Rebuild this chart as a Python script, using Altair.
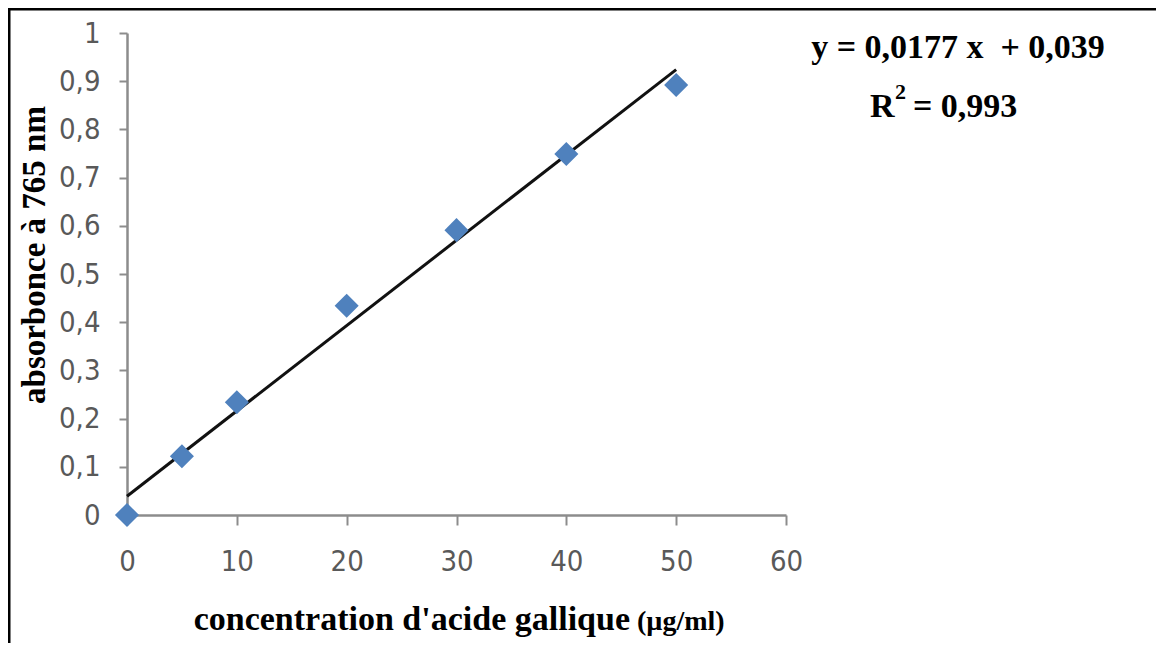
import altair as alt
import pandas as pd

# data
conc = [0, 5, 10, 20, 30, 40, 50]
absorb = [0.0, 0.122, 0.234, 0.434, 0.591, 0.749, 0.892]
trend_x = [0, 50]
trend_y = [0.039, 0.924]
x_ticks = [0, 10, 20, 30, 40, 50, 60]
y_ticks = [0, 0.1, 0.2, 0.3, 0.4, 0.5, 0.6, 0.7, 0.8, 0.9, 1]
eq_line1 = "y = 0,0177 x \u00a0+ 0,039"
eq_r = "R"
eq_sup = "2"
eq_rest = "= 0,993"
x_title_main = "concentration d'acide gallique"
x_title_unit = "(µg/ml)"
y_title = "absorbonce à 765 nm"

pts = pd.DataFrame({"x": conc, "y": absorb})
trend = pd.DataFrame({"x": trend_x, "y": trend_y})

AX = "#8c8c8c"
TICKFONT = "DejaVu Sans Condensed, Lato, sans-serif"
SERIF = "Liberation Serif, Times New Roman, serif"

xs = alt.Scale(domain=[0, 60], nice=False, zero=False)
ys = alt.Scale(domain=[0, 1], nice=False)

x_axis = alt.Axis(values=x_ticks, title=None, grid=False, domainColor=AX, domainWidth=2.5,
                  tickColor=AX, tickWidth=2, tickSize=10, labelFont=TICKFONT, labelFontSize=29,
                  labelColor="#595959", labelPadding=22, labelFlush=False)
y_axis = alt.Axis(values=y_ticks, title=None, grid=False, domainColor=AX, domainWidth=2.5,
                  tickColor=AX, tickWidth=2, tickSize=8, labelFont=TICKFONT, labelFontSize=29,
                  labelColor="#595959", labelPadding=19, format=".1~f",
                  labelExpr="replace(datum.label, '.', ',')", labelFlush=False)

line = alt.Chart(trend).mark_line(color="#111111", strokeWidth=3).encode(
    x=alt.X("x:Q", scale=xs, axis=x_axis),
    y=alt.Y("y:Q", scale=ys, axis=y_axis),
)
points = alt.Chart(pts).mark_point(shape="diamond", filled=True, size=580, opacity=1,
                                   color="#4F81BD").encode(
    x=alt.X("x:Q", scale=xs),
    y=alt.Y("y:Q", scale=ys),
)

def txt(s, x, y, size, align="center", angle=0, font=SERIF):
    return alt.Chart(pd.DataFrame({"t": [s]})).mark_text(
        font=font, fontSize=size, fontWeight="bold", color="black", align=align,
        baseline="alphabetic", angle=angle
    ).encode(x=alt.value(x), y=alt.value(y), text="t:N")

eq1 = txt(eq_line1, 831, 25, 34)
eq2a = txt(eq_r, 743, 84, 34, align="left")
eq2b = txt(eq_sup, 768, 66, 22, align="left")
eq2c = txt(eq_rest, 786, 84, 34, align="left")
xt1 = txt(x_title_main, 503, 597, 34, align="right")
xt2 = txt(x_title_unit, 510, 597, 28, align="left")
yt = txt(y_title, -82, 222, 33, angle=270)

border_top = alt.Chart(pd.DataFrame({"a": [0]})).mark_rule(color="black", strokeWidth=3).encode(
    x=alt.value(-119), x2=alt.value(1030), y=alt.value(-24))
border_left = alt.Chart(pd.DataFrame({"a": [0]})).mark_rule(color="black", strokeWidth=3).encode(
    x=alt.value(-118), y=alt.value(-25), y2=alt.value(610))

chart = alt.layer(border_top, border_left, line, points, eq1, eq2a, eq2b, eq2c,
                  xt1, xt2, yt).properties(
    width=659, height=482,
    autosize=alt.AutoSizeParams(type="none"),
    padding={"left": 119, "top": 25, "right": 370, "bottom": 128},
    background="white",
).configure_view(stroke=None)

chart.save("out.html", embed_options={"renderer": "svg", "actions": False})
